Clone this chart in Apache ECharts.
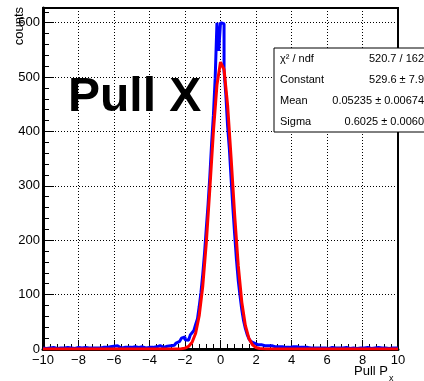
<!DOCTYPE html>
<html>
<head>
<meta charset="utf-8">
<script src="https://cdn.jsdelivr.net/npm/echarts@6/dist/echarts.min.js"></script>
<style>
  html, body { margin: 0; padding: 0; background: #fff; }
  #chart { width: 424px; height: 381px; }
</style>
</head>
<body>
<div id="chart"></div>
<script>
  // histogram: 200 bins of 0.1 from -10 to 10
  const binLow = -10;
  const binWidth = 0.1;
  const tailLeft = [
    2, 1, 2, 2, 1, 3, 2, 1, 2, 2,
    1, 2, 2, 3, 1, 2, 2, 1, 2, 3,
    2, 2, 1, 3, 2, 2, 3, 2, 1, 2,
    3, 2, 2, 3, 2, 3, 2, 4, 3, 5,
    7, 6, 3, 2, 4, 3, 2, 3, 4, 3,
    3, 4, 2, 3, 3, 4, 3, 2, 4, 3,
    4, 3, 5, 4, 7, 6, 4, 3, 4, 5,
    5, 6, 5, 7
  ];
  const core = [
    9, 11, 14, 12, 20, 22, 17, 16, 14, 26,
    30, 34, 45, 55, 78, 104, 137, 176, 222, 266,
    318, 378, 430, 498, 600, 548,
    600, 598, 512, 468, 410, 368, 312, 258, 210, 164,
    126, 98, 72, 52, 38, 27, 19, 14, 11, 9,
    8, 7, 8, 7, 6, 6
  ];
  const tailRight = [
    6, 5, 6, 5, 4, 5, 4, 3, 4, 3,
    3, 4, 3, 3, 4, 5, 4, 3, 3, 2,
    3, 2, 3, 2, 2, 3, 2, 3, 2, 2,
    2, 3, 2, 2, 1, 2, 3, 2, 2, 2,
    2, 1, 2, 2, 3, 2, 1, 2, 2, 2,
    1, 2, 2, 1, 2, 2, 3, 2, 1, 2,
    2, 2, 3, 2, 2, 1, 2, 2, 1, 2,
    2, 1, 2, 2
  ];
  const counts = tailLeft.concat(core, tailRight);

  // gaus fit curve
  const fitX = [-10, -2.6, -2.4, -2.2, -2.0, -1.8, -1.6, -1.4, -1.2, -1.0, -0.8, -0.6, -0.4, -0.2,
                0, 0.2, 0.4, 0.6, 0.8, 1.0, 1.2, 1.4, 1.6, 1.8, 2.0, 2.2, 2.4, 2.6, 10];
  const fitY = [0, 0, 0.1, 0.5, 1.6, 4.7, 12.3, 29.0, 61.1, 115.3, 194.9, 294.9, 399.7, 485.2,
                527.6, 513.9, 448.3, 350.2, 245.1, 153.6, 86.2, 43.3, 19.5, 7.9, 2.8, 0.9, 0.3, 0.1, 0];

  const xMin = -10, xMax = 10, xStep = 2;
  const yMin = 0, yMax = 627, yStep = 100, yMinorStep = 20;

  const statNames = ['χ² / ndf', 'Constant', 'Mean', 'Sigma'];
  const statValues = ['520.7 / 162', '529.6 ± 7.9', '0.05235 ± 0.00674', '0.6025 ± 0.0060'];

  const font = '"Liberation Sans", Arial, Helvetica, sans-serif';

  // step data from bin edges
  let histData = counts.map((v, i) => [binLow + i * binWidth, v]);
  histData.push([xMax, counts[counts.length - 1]]);
  let fitData = fitX.map((x, i) => [x, fitY[i]]);

  let chart = echarts.init(document.getElementById('chart'));

  let statsGraphic = [{
    type: 'rect',
    shape: { x: 274, y: 48, width: 170, height: 84 },
    style: { fill: '#fff', stroke: '#000', lineWidth: 1 },
    z: 100
  }];
  statNames.forEach((name, i) => {
    statsGraphic.push({
      type: 'text', x: 280, y: 59 + i * 21, z: 101,
      style: { text: name, font: '11px ' + font, fill: '#000', align: 'left', verticalAlign: 'middle' }
    });
    statsGraphic.push({
      type: 'text', x: 424, y: 59 + i * 21, z: 101,
      style: { text: statValues[i], font: '11px ' + font, fill: '#000', align: 'right', verticalAlign: 'middle' }
    });
  });

  let option = {
    backgroundColor: '#fff',
    animation: false,
    grid: {
      left: 43, right: 26, top: 8, bottom: 32,
      show: true, borderColor: '#000', borderWidth: 2, backgroundColor: 'transparent'
    },
    xAxis: {
      type: 'value',
      min: xMin, max: xMax, interval: xStep,
      axisLine: { onZero: false, lineStyle: { color: '#000', width: 3 } },
      axisTick: { inside: true, length: 9, lineStyle: { color: '#000', width: 1 } },
      minorTick: { show: true, splitNumber: 5, length: 5, lineStyle: { color: '#000', width: 1 } },
      axisLabel: {
        color: '#000', fontSize: 13, fontFamily: font, margin: 5,
        formatter: v => String(v).replace('-', '\u2212')
      },
      splitLine: { show: true, lineStyle: { color: '#000', width: 1, type: [1, 2] } }
    },
    yAxis: [
      {
        type: 'value',
        min: yMin, max: yMax, interval: yStep,
        axisLine: { show: true, onZero: false, lineStyle: { color: '#000', width: 3 } },
        axisTick: { show: true, inside: true, length: 11, lineStyle: { color: '#000', width: 1 } },
        axisLabel: {
          color: '#000', fontSize: 13, fontFamily: font, margin: 3,
          formatter: v => (v % yStep === 0 ? String(v) : '')
        },
        splitLine: { show: true, lineStyle: { color: '#000', width: 1, type: [1, 2] } }
      },
      {
        // minor ticks
        type: 'value', position: 'left', offset: 0,
        min: yMin, max: yMax, interval: yMinorStep,
        axisLine: { show: false, onZero: false },
        axisTick: { show: true, inside: true, length: 6, lineStyle: { color: '#000', width: 1 } },
        axisLabel: { show: false },
        splitLine: { show: false }
      }
    ],
    series: [
      {
        name: 'hist',
        type: 'line',
        step: 'end',
        data: histData,
        showSymbol: false,
        lineStyle: { color: '#0000ff', width: 3 },
        itemStyle: { color: '#0000ff' },
        z: 3
      },
      {
        name: 'fit',
        type: 'line',
        data: fitData,
        showSymbol: false,
        lineStyle: { color: '#ff0000', width: 3 },
        itemStyle: { color: '#ff0000' },
        z: 4
      }
    ],
    graphic: [
      {
        type: 'text', x: 19, y: 7, rotation: Math.PI / 2,
        style: { text: 'counts', font: '13px ' + font, fill: '#000', align: 'right', verticalAlign: 'middle' }
      },
      {
        type: 'text', x: 388, y: 371,
        style: { text: 'Pull P', font: '13px ' + font, fill: '#000', align: 'right', verticalAlign: 'middle' }
      },
      {
        type: 'text', x: 389, y: 379,
        style: { text: 'x', font: '9px ' + font, fill: '#000', align: 'left', verticalAlign: 'middle' }
      },
      {
        type: 'text', x: 68, y: 98, z: 50,
        style: { text: 'Pull X', font: 'bold 48px ' + font, fill: '#000', align: 'left', verticalAlign: 'middle' }
      }
    ].concat(statsGraphic)
  };

  chart.setOption(option);
</script>
</body>
</html>
